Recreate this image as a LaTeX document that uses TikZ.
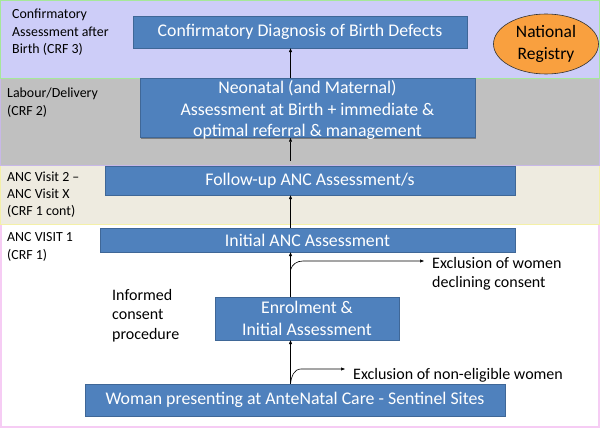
\documentclass[tikz,border=0pt]{standalone}
\usepackage{fontspec}
\setmainfont{Carlito}
\usetikzlibrary{arrows.meta,shadows,shapes.geometric}
\definecolor{boxblue}{HTML}{4F81BD}
\definecolor{bandtop}{HTML}{CDCDF8}
\definecolor{bandtopline}{HTML}{A6E89A}
\definecolor{bandgray}{HTML}{C0C0C0}
\definecolor{bandgrayline}{HTML}{C8B8E8}
\definecolor{bandbeige}{HTML}{EEEBE0}
\definecolor{bandbeigeline}{HTML}{F4F0A8}
\definecolor{bandwhiteline}{HTML}{F6CCF4}
\definecolor{regorange}{HTML}{F9A03F}
\tikzset{
  flowbox/.style={draw=boxblue!80!black, line width=0.4pt, fill=boxblue, text=white, align=center,
    font=\fontsize{17.8}{21.5}\selectfont, inner sep=0pt,
    drop shadow={shadow xshift=1.2pt, shadow yshift=-1.2pt, opacity=0.35, fill=black}},
  bandlabel/.style={anchor=north west, align=left, inner sep=0pt, font=\fontsize{13.9}{17.3}\selectfont},
  notelabel/.style={anchor=west, align=left, inner sep=0pt, font=\fontsize{16}{19.3}\selectfont},
  flowarrow/.style={-{Triangle[length=4pt,width=3pt]}, line width=0.6pt, black}
}
\begin{document}
\begin{tikzpicture}[x=1pt,y=-1pt]
\useasboundingbox (0,0) rectangle (600,428);
% bands
\fill[white] (0,0) rectangle (600,428);
\draw[bandwhiteline, line width=1.5pt, fill=white] (0.8,224) rectangle (599.2,427.2);
\draw[bandbeigeline, line width=1pt, fill=bandbeige] (0.5,165) rectangle (599.5,224);
\draw[bandgrayline, line width=1pt, fill=bandgray] (0.5,79) rectangle (599.5,165);
\draw[bandtopline, line width=1pt, fill=bandtop] (0.5,0.5) rectangle (599.5,79);
% band labels
\node[bandlabel] (l1) at (12,9) {Confirmatory\\Assessment after\\Birth (CRF 3)};
\node[bandlabel] (l2) at (7,88) {Labour/Delivery\\(CRF 2)};
\node[bandlabel] (l3) at (7,171.5) {ANC Visit 2 –\\ANC Visit X\\(CRF 1 cont)};
\node[bandlabel] (l4) at (7,232.5) {ANC VISIT 1\\(CRF 1)};
% boxes
\node[flowbox, minimum width=334pt, minimum height=32pt] (conf) at (300,32) {Confirmatory Diagnosis of Birth Defects};
\node[flowbox, minimum width=335pt, minimum height=58pt] (neo) at (307.5,108) {\raisebox{-2.5pt}[\height][\depth]{\parbox{330pt}{\centering Neonatal (and Maternal)\\Assessment at Birth + immediate \&\\optimal referral \& management}}};
\node[flowbox, minimum width=410pt, minimum height=29pt] (fup) at (310,180.5) {Follow-up ANC Assessment/s};
\node[flowbox, minimum width=415pt, minimum height=24pt] (init) at (307.5,240) {Initial ANC Assessment};
\node[flowbox, minimum width=184pt, minimum height=43pt] (enrol) at (307,318.5) {Enrolment \&\\Initial Assessment};
\node[flowbox, minimum width=420pt, minimum height=32pt] (woman) at (295,400) {Woman presenting at AnteNatal Care - Sentinel Sites};
% registry
\node[ellipse, draw=black!80, line width=0.6pt, fill=regorange, minimum width=105pt, minimum height=60pt, inner sep=0pt, align=center, font=\fontsize{17.5}{21.5}\selectfont] (reg) at (546,44) {National\\Registry};
% notes
\node[notelabel] (ex1) at (432,273.5) {Exclusion of women\\declining consent};
\node[notelabel] (ex2) at (353,375) {Exclusion of non-eligible women};
\node[anchor=north west, align=left, inner sep=0pt, font=\fontsize{16}{19.5}\selectfont] (ic) at (112,289) {Informed\\consent\\procedure};
% connectors
\coordinate (ax) at (290.5,0);
\draw[flowarrow] (neo.north -| ax) -- (conf.south -| ax);
\draw[flowarrow] ([yshift=5pt]fup.north -| ax) -- (neo.south -| ax);
\draw[flowarrow] (init.north -| ax) -- (fup.south -| ax);
\draw[flowarrow] (enrol.north -| ax) -- (init.south -| ax);
\draw[flowarrow] (woman.north -| ax) -- (enrol.south -| ax);
\coordinate (b1) at (290.5,270);
\coordinate (e1) at (424,261);
\draw[flowarrow] (b1) to[out=75,in=180] (303,261) -- (e1);
\coordinate (e2) at (345,369);
\draw[flowarrow] (woman.north -| ax) to[out=85,in=180] (301,369) -- (e2);
\end{tikzpicture}
\end{document}
